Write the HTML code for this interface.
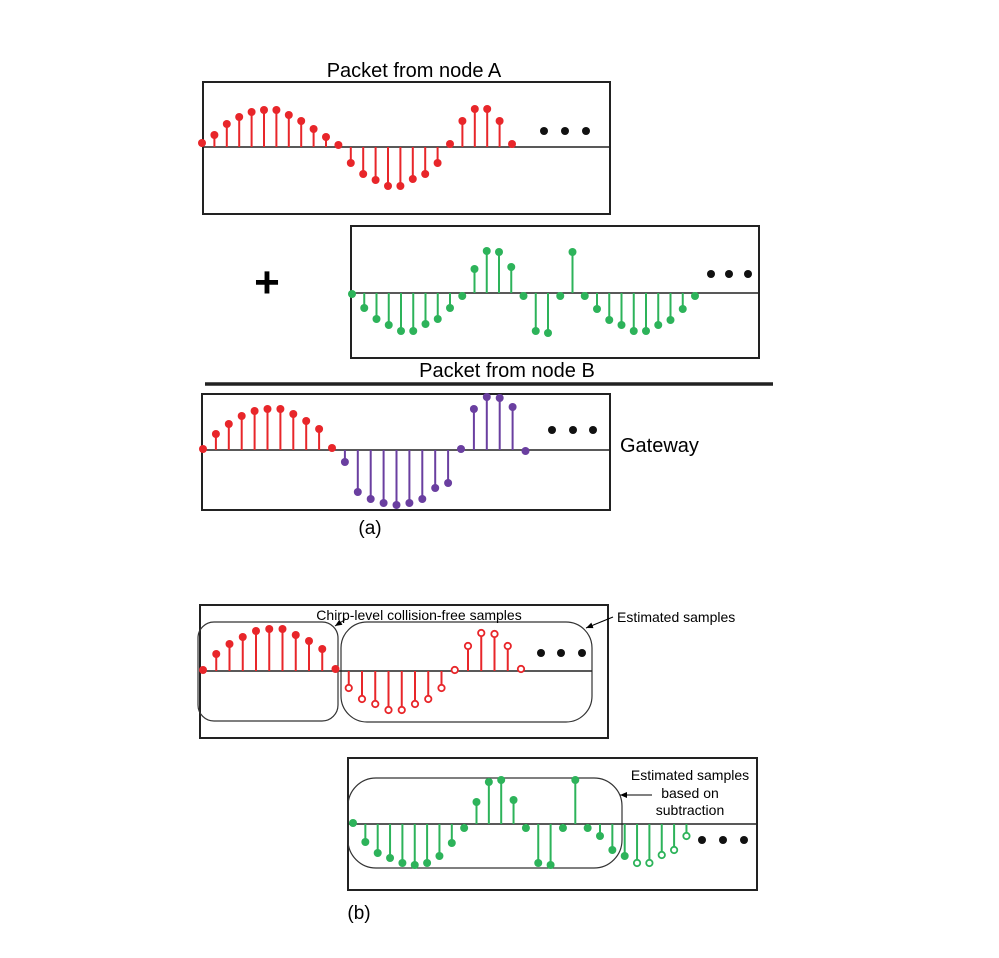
<!DOCTYPE html>
<html><head><meta charset="utf-8"><style>
html,body{margin:0;padding:0;background:#fff;}
svg{display:block;font-family:"Liberation Sans",sans-serif;}
</style></head><body>
<svg id="fig" width="999" height="958" viewBox="0 0 999 958">
<defs><marker id="ah" markerWidth="8" markerHeight="8" refX="7" refY="4" orient="auto"><path d="M0,1 L7,4 L0,7 z" fill="#000"/></marker></defs>
<text x="414" y="77" font-size="20" text-anchor="middle">Packet from node A</text>
<rect x="203" y="82" width="407" height="132" fill="none" stroke="#222" stroke-width="2"/>
<text x="267" y="297" font-size="44" font-weight="bold" text-anchor="middle">+</text>
<rect x="351" y="226" width="408" height="132" fill="none" stroke="#222" stroke-width="2"/>
<text x="507" y="377" font-size="20" text-anchor="middle">Packet from node B</text>
<line x1="205" y1="384" x2="773" y2="384" stroke="#222" stroke-width="3.5"/>
<rect x="202" y="394" width="408" height="116" fill="none" stroke="#222" stroke-width="2"/>
<text x="620" y="452" font-size="20">Gateway</text>
<text x="370" y="534" font-size="19" text-anchor="middle">(a)</text>
<rect x="200" y="605" width="408" height="133" fill="none" stroke="#222" stroke-width="2"/>
<rect x="198" y="622" width="140" height="99" rx="16" fill="none" stroke="#333" stroke-width="1.2"/>
<rect x="341" y="622" width="251" height="100" rx="26" fill="none" stroke="#333" stroke-width="1.2"/>
<text x="419" y="620" font-size="14" text-anchor="middle">Chirp-level collision-free samples</text>
<line x1="346" y1="619" x2="335" y2="626" stroke="#000" stroke-width="1" marker-end="url(#ah)"/>
<text x="617" y="622" font-size="14">Estimated samples</text>
<line x1="613" y1="617" x2="586" y2="628" stroke="#000" stroke-width="1" marker-end="url(#ah)"/>
<rect x="348" y="758" width="409" height="132" fill="none" stroke="#222" stroke-width="2"/>
<rect x="348" y="778" width="274" height="90" rx="28" fill="none" stroke="#333" stroke-width="1.2"/>
<text x="690" y="780" font-size="14" text-anchor="middle">Estimated samples</text>
<text x="690" y="798" font-size="14" text-anchor="middle">based on</text>
<text x="690" y="815" font-size="14" text-anchor="middle">subtraction</text>
<line x1="652" y1="795" x2="620" y2="795" stroke="#000" stroke-width="1" marker-end="url(#ah)"/>
<text x="359" y="919" font-size="19" text-anchor="middle">(b)</text>
<g id="marks"></g>
</svg>
<script>
const ampA = [4,12,23,30,35,37,37,32,26,18,10,2,-16,-27,-33,-39,-39,-32,-27,-16,3,26,38,38,26,3];
const ampB = [-1,-15,-26,-32,-38,-38,-31,-26,-15,-3,24,42,41,26,-3,-38,-40,-3,41,-3,-16,-27,-32,-38,-38,-32,-27,-16,-3];
const ampGw = [1,16,26,34,39,41,41,36,29,21,2,-12,-42,-49,-53,-55,-53,-49,-38,-33,1,41,53,52,43,-1];
const gwRedCount = 11;
const ampDa = [1,17,27,34,40,42,42,36,30,22,2,-17,-28,-33,-39,-39,-33,-28,-17,1,25,38,37,25,2];
const daFilledCount = 11;
const ampDb = [1,-18,-29,-34,-39,-41,-39,-32,-19,-4,22,42,44,24,-4,-39,-41,-4,44,-4,-12,-26,-32,-39,-39,-31,-26,-12];
const dbFilledCount = 23;

const RED="#e8262a", GREEN="#2db35a", PURPLE="#6a3fa0";
const NS="http://www.w3.org/2000/svg";
const g=document.getElementById('marks');
function mk(tag,attrs){const e=document.createElementNS(NS,tag);for(const k in attrs)e.setAttribute(k,attrs[k]);g.appendChild(e);return e;}

function panel(name,amps,x0,dx,base,x1,x2,colorFn,openFn,dots,dotY){
  const xs=i=>x0+i*dx, ys=a=>base-a;
  const bl=mk('line',{x1:x1,y1:base,x2:x2,y2:base,stroke:'#222','stroke-width':1.6});
  
  
  amps.forEach((a,i)=>{
    const c=colorFn(i), open=openFn(i);
    const st=mk('line',{x1:xs(i),y1:base,x2:xs(i),y2:ys(a),stroke:c,'stroke-width':2});
    
    
    const d=mk('circle',{cx:xs(i),cy:ys(a),r:open?3.2:4,fill:open?'#fff':c,stroke:c,'stroke-width':open?1.8:0});
    
    
  });
  dots.forEach(x=>{
    const e=mk('circle',{cx:x,cy:dotY,r:4,fill:'#111'});
    
    
  });
}
panel('node-a',ampA,202,12.4,147,203,610,()=>RED,()=>false,[544,565,586],131);
panel('node-b',ampB,352,12.25,293,351,759,()=>GREEN,()=>false,[711,729,748],274);
panel('gateway',ampGw,203,12.9,450,202,610,i=>i<gwRedCount?RED:PURPLE,()=>false,[552,573,593],430);
panel('decoded-a',ampDa,203,13.25,671,200,592,()=>RED,i=>i>=daFilledCount,[541,561,582],653);
panel('decoded-b',ampDb,353,12.35,824,348,757,()=>GREEN,i=>i>=dbFilledCount,[702,723,744],840);
</script>
</body></html>
